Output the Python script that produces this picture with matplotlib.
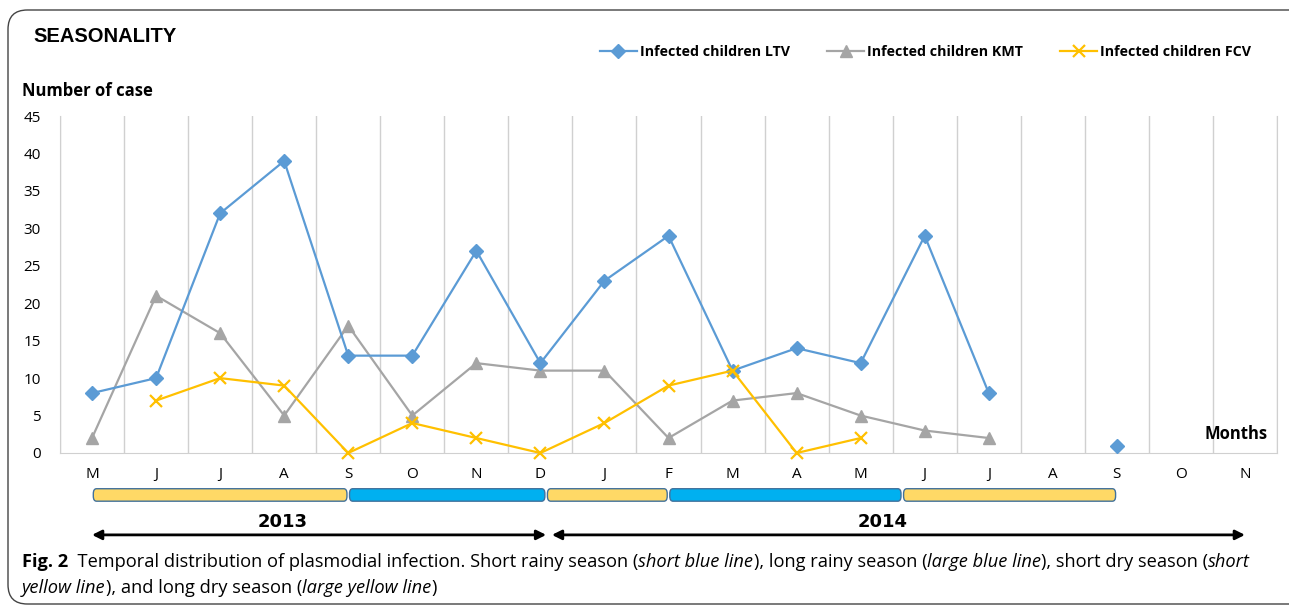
import matplotlib
matplotlib.use("Agg")
import matplotlib.pyplot as plt
import numpy as np
from matplotlib.patches import FancyBboxPatch
from matplotlib.transforms import blended_transform_factory

months = ["M", "J", "J", "A", "S", "O", "N", "D", "J", "F", "M", "A", "M", "J", "J", "A", "S", "O", "N"]
ltv = [8, 10, 32, 39, 13, 13, 27, 12, 23, 29, 11, 14, 12, 29, 8, None, 1, None, None]
kmt = [2, 21, 16, 5, 17, 5, 12, 11, 11, 2, 7, 8, 5, 3, 2, None, None, None, None]
fcv = [None, 7, 10, 9, 0, 4, 2, 0, 4, 9, 11, 0, 2, None, None, None, None, None, None]
series_names = ["Infected children LTV", "Infected children KMT", "Infected children FCV"]
yticks = [0, 5, 10, 15, 20, 25, 30, 35, 40, 45]

season_bounds = [0, 4, 7.09, 9, 12.65, 16]
season_types = ["dry", "rainy", "dry", "rainy", "dry"]
years = ["2013", "2014"]
year_spans = [(0, 7.09), (7.18, 18)]
year_label_x = [2.98, 12.34]

W, H = 1289, 607
fig = plt.figure(figsize=(W / 100, H / 100), dpi=100)

def fx(px):
    return px / W

def fy(py):
    return 1 - py / H

ax = fig.add_axes([fx(60), fy(453), fx(1277) - fx(60), fy(116) - fy(453)])

x = np.arange(len(months))
def arr(v):
    return np.array([np.nan if a is None else a for a in v], dtype=float)

c_ltv, c_kmt, c_fcv = "#5B9BD5", "#A5A5A5", "#FFC000"
l1, = ax.plot(x, arr(ltv), color=c_ltv, lw=1.6, marker="D", ms=7, mec=c_ltv, mfc=c_ltv, clip_on=False, zorder=5)
l2, = ax.plot(x, arr(kmt), color=c_kmt, lw=1.6, marker="^", ms=8.5, mec=c_kmt, mfc=c_kmt, clip_on=False, zorder=4)
l3, = ax.plot(x, arr(fcv), color=c_fcv, lw=1.6, marker="x", ms=8, mew=1.6, mec=c_fcv, clip_on=False, zorder=6)

ax.set_xlim(-0.5, len(months) - 0.5)
ax.set_ylim(0, 45)
ax.set_yticks(yticks)
ax.set_yticklabels([str(t) for t in yticks], fontsize=11, family="Open Sans")
ax.set_xticks(x)
ax.set_xticklabels(months, fontsize=11, family="Open Sans")
ax.tick_params(length=0)
ax.tick_params(axis="x", pad=10)
ax.tick_params(axis="y", pad=14)
for b in np.arange(-0.5, len(months), 1.0):
    ax.axvline(b, color="#D0D0D0", lw=1.0, zorder=0)
for s in ax.spines.values():
    s.set_color("#D0D0D0")
ax.spines["top"].set_visible(False)

ax.text(0.992, 0.03, "Months", transform=ax.transAxes, ha="right", va="bottom",
        fontsize=12, fontweight="bold", family="Open Sans")

fig.text(fx(33), fy(36), "SEASONALITY", fontsize=14.5, fontweight="bold",
         family="Liberation Sans", va="center", ha="left")
fig.text(fx(22), fy(91), "Number of case", fontsize=12, fontweight="bold",
         family="Open Sans", va="center", ha="left")

leg = fig.legend([l1, l2, l3], series_names, loc="center right",
                 bbox_to_anchor=(fx(1264), fy(52)), ncol=3, frameon=False,
                 prop={"family": "Open Sans", "weight": "bold", "size": 10.3},
                 handlelength=2.6, columnspacing=2.6, handletextpad=0.2)

tr = blended_transform_factory(ax.transData, ax.transAxes)
colors = {"dry": "#FFD966", "rainy": "#00B0F0"}
for i, st in enumerate(season_types):
    x0 = season_bounds[i] + 0.02
    x1 = season_bounds[i + 1] - 0.02
    p = FancyBboxPatch((x0, -0.143), x1 - x0, 0.037, boxstyle="round,pad=0,rounding_size=0.05",
                       transform=tr, facecolor=colors[st], edgecolor="#41719C", lw=1.0, clip_on=False,
                       mutation_aspect=0.3)
    ax.add_patch(p)

for yr, (a, b), lx in zip(years, year_spans, year_label_x):
    ax.annotate("", xy=(b, -0.243), xytext=(a, -0.243), xycoords=tr, textcoords=tr,
                arrowprops=dict(arrowstyle="<|-|>", color="black", lw=2, mutation_scale=14,
                                shrinkA=0, shrinkB=0), annotation_clip=False)
    ax.text(lx, -0.205, yr, transform=tr, ha="center", va="center",
            fontsize=13, fontweight="bold", family="Liberation Sans Narrow")

border = FancyBboxPatch((fx(8), fy(604)), fx(1320) - fx(8), fy(10) - fy(604),
                        boxstyle="round,pad=0,rounding_size=0.015", transform=fig.transFigure,
                        facecolor="none", edgecolor="#444444", lw=1.0, mutation_aspect=W / H)
fig.patches.append(border)

cap1 = [("Fig. 2", "bold"), ("  Temporal distribution of plasmodial infection. Short rainy season (", "normal"),
        ("short blue line", "italic"), ("), long rainy season (", "normal"), ("large blue line", "italic"),
        ("), short dry season (", "normal"), ("short", "italic")]
cap2 = [("yellow line", "italic"), ("), and long dry season (", "normal"), ("large yellow line", "italic"), (")", "normal")]

renderer = fig.canvas.get_renderer()

def draw_line(pieces, x0, y, size):
    xc = x0
    objs = []
    for txt, st in pieces:
        kw = dict(fontsize=size, family="Open Sans", va="center", ha="left")
        if st == "bold":
            kw["fontweight"] = "bold"
        elif st == "italic":
            kw["fontstyle"] = "italic"
        t = fig.text(xc / W, fy(y), txt, **kw)
        bb = t.get_window_extent(renderer=renderer)
        xc += bb.width
        objs.append(t)
    return xc - x0, objs

size = 12
w, objs = draw_line(cap1, 22, 562, size)
for o in objs:
    o.remove()
size = size * (1223 / w)
draw_line(cap1, 22, 562, size)
draw_line(cap2, 22, 588, size)

fig.savefig("out.png", dpi=100)
